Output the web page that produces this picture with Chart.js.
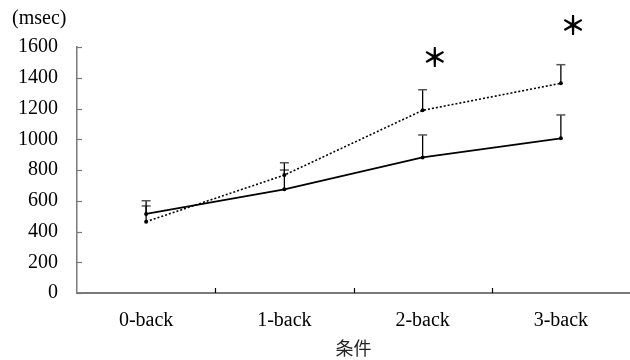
<!DOCTYPE html>
<html>
<head>
<meta charset="utf-8">
<script src="https://cdn.jsdelivr.net/npm/chart.js@4"></script>
<style>
  html, body { margin: 0; padding: 0; background: #fff; }
  #wrap { width: 630px; height: 360px; }
</style>
</head>
<body>
<div id="wrap"><canvas id="c" width="630" height="360"></canvas></div>
<script>
// Reaction time by n-back condition (mean with upward SD bars)
const categories = ['0-back', '1-back', '2-back', '3-back'];
const solidMeans = [514, 674, 882, 1006];
const solidSD = [52, 126, 146, 152];
const dottedMeans = [464, 767, 1188, 1364];
const dottedSD = [136, 80, 134, 121];
const significant = [false, false, true, true];
const yMin = 0, yMax = 1600, yStep = 200;
const unitLabel = '(msec)';
const xTitle = '条件';

const SERIF = '"Liberation Serif", "DejaVu Serif", serif';
const CJK = '"Noto Sans CJK JP", sans-serif';
const AXIS_COLOR = '#7a7a7a';

// Upward error bars, inward tick marks, unit label and significance marks
const decorations = {
  id: 'decorations',
  afterDatasetsDraw(chart) {
    const ctx = chart.ctx;
    const x = chart.scales.x, y = chart.scales.y;
    const sds = [solidSD, dottedSD];
    ctx.save();
    chart.data.datasets.forEach((ds, di) => {
      const meta = chart.getDatasetMeta(di);
      meta.data.forEach((pt, i) => {
        const top = y.getPixelForValue(ds.data[i] + sds[di][i]);
        ctx.strokeStyle = '#000';
        ctx.lineWidth = 1.3;
        ctx.beginPath();
        ctx.moveTo(pt.x, pt.y);
        ctx.lineTo(pt.x, top);
        ctx.stroke();
        ctx.strokeStyle = '#555';
        ctx.lineWidth = 1.5;
        ctx.beginPath();
        ctx.moveTo(pt.x - 4.5, top);
        ctx.lineTo(pt.x + 4.5, top);
        ctx.stroke();
      });
    });

    // inward ticks
    ctx.strokeStyle = AXIS_COLOR;
    ctx.lineWidth = 1.2;
    for (let v = yMin; v <= yMax; v += yStep) {
      const py = Math.round(y.getPixelForValue(v)) + 0.5;
      ctx.beginPath();
      ctx.moveTo(x.left, py);
      ctx.lineTo(x.left + 5, py);
      ctx.stroke();
    }
    ctx.strokeStyle = '#000';
    for (let i = 1; i < categories.length; i++) {
      const px = Math.round((x.getPixelForValue(i - 1) + x.getPixelForValue(i)) / 2) + 0.5;
      ctx.beginPath();
      ctx.moveTo(px, y.bottom);
      ctx.lineTo(px, y.bottom - 5);
      ctx.stroke();
    }

    // unit label
    ctx.fillStyle = '#000';
    ctx.font = '20px ' + SERIF;
    ctx.textAlign = 'left';
    ctx.textBaseline = 'middle';
    ctx.fillText(unitLabel, 12, 19);

    // significance marks above the dotted series
    const lift = [0, 0, 33, 40];
    ctx.font = 'bold 26px ' + CJK;
    ctx.textAlign = 'center';
    significant.forEach((s, i) => {
      if (!s) return;
      const top = y.getPixelForValue(dottedMeans[i] + dottedSD[i]);
      ctx.fillText('＊', x.getPixelForValue(i) + 12, top - lift[i]);
    });
    ctx.restore();
  }
};

new Chart(document.getElementById('c'), {
  type: 'line',
  data: {
    labels: categories,
    datasets: [
      {
        data: solidMeans,
        borderColor: '#000',
        backgroundColor: '#000',
        borderWidth: 1.8,
        pointRadius: 2,
        pointBorderWidth: 0,
        tension: 0
      },
      {
        data: dottedMeans,
        borderColor: '#000',
        backgroundColor: '#000',
        borderWidth: 1.6,
        borderDash: [2, 2],
        pointRadius: 2,
        pointBorderWidth: 0,
        tension: 0
      }
    ]
  },
  options: {
    responsive: false,
    animation: false,
    devicePixelRatio: 1,
    layout: { autoPadding: false, padding: { top: 47, right: 0, left: 0, bottom: 0 } },
    plugins: { legend: { display: false }, tooltip: { enabled: false } },
    scales: {
      x: {
        type: 'category',
        offset: true,
        grid: { display: false, drawTicks: false },
        border: { display: true, color: AXIS_COLOR, width: 2 },
        ticks: { color: '#000', font: { family: SERIF, size: 20 }, padding: 16, maxRotation: 0 },
        title: { display: true, text: xTitle, color: '#222', font: { family: CJK, size: 18 }, padding: { top: 0, bottom: 1 } },
        afterFit(s) { s.height = 67; }
      },
      y: {
        min: yMin,
        max: yMax,
        grid: { display: false, drawTicks: false },
        border: { display: true, color: AXIS_COLOR, width: 1.5 },
        ticks: { stepSize: yStep, color: '#000', font: { family: SERIF, size: 20 }, padding: 19,
                 callback: v => String(v) },
        afterFit(s) { s.width = 77; }
      }
    }
  },
  plugins: [decorations]
});
</script>
</body>
</html>
